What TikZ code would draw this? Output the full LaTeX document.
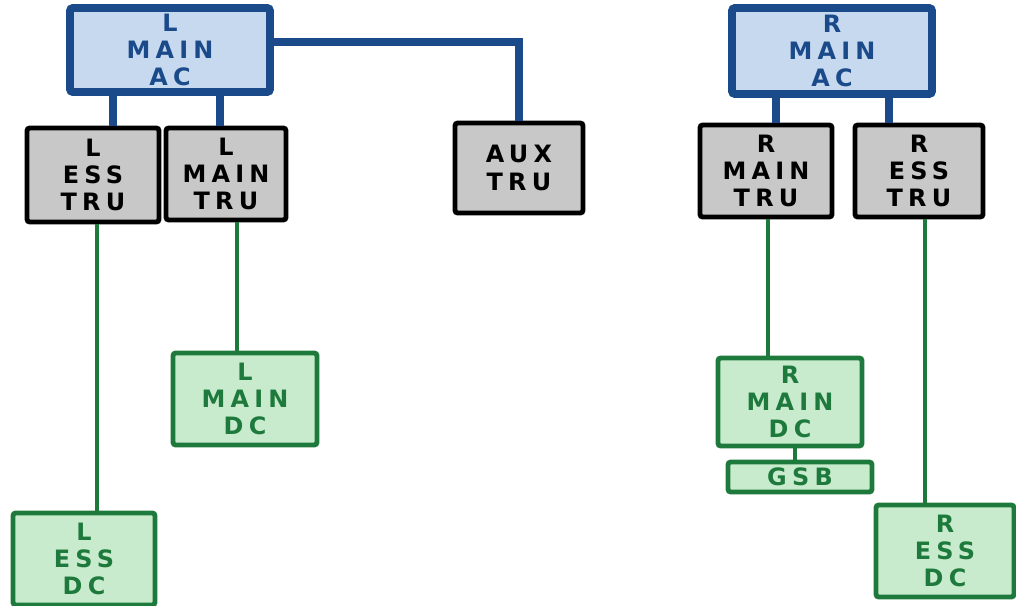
\documentclass[tikz,border=0pt]{standalone}
\usepackage{fontspec}
\setmainfont[LetterSpace=22]{DejaVu Sans}
\usepackage{tikz}
\usetikzlibrary{positioning,calc}
\definecolor{acblue}{HTML}{1A4A8A}
\definecolor{acfill}{HTML}{C6D9EE}
\definecolor{trugray}{HTML}{C8C8C8}
\definecolor{dcgreen}{HTML}{1E7A3C}
\definecolor{dcfill}{HTML}{C9EBCD}

\begin{document}
\begin{tikzpicture}[
x=0.025cm, y=-0.025cm,
every node/.style={font=\fontsize{17}{19.5}\selectfont\bfseries, align=center, inner sep=1pt},
acbox/.style={draw=acblue, line width=5.5pt, fill=acfill, text=acblue, rounded corners=2pt},
trubox/.style={draw=black, line width=3.5pt, fill=trugray, text=black, rounded corners=2pt},
dcbox/.style={draw=dcgreen, line width=3.5pt, fill=dcfill, text=dcgreen, rounded corners=2pt},
acline/.style={draw=acblue, line width=5.5pt},
dcline/.style={draw=dcgreen, line width=2.5pt}
]
\useasboundingbox (0,0) rectangle (1016,605);

% AC busses
\node[acbox, minimum width=5cm, minimum height=2.1cm] (lac) at (170,50) {L\\MAIN\\AC};
\node[acbox, minimum width=5cm, minimum height=2.15cm] (rac) at (832,51) {R\\MAIN\\AC};

% transformer rectifier units
\node[trubox, minimum width=3.3cm, minimum height=2.35cm] (lesstru) at (93,175) {L\\ESS\\TRU};
\node[trubox, minimum width=3cm, minimum height=2.3cm] (lmaintru) at (226,174) {L\\MAIN\\TRU};
\node[trubox, minimum width=3.2cm, minimum height=2.25cm] (auxtru) at (519,168) {AUX\\TRU};
\node[trubox, minimum width=3.3cm, minimum height=2.3cm] (rmaintru) at (766,171) {R\\MAIN\\TRU};
\node[trubox, minimum width=3.2cm, minimum height=2.3cm] (resstru) at (919,171) {R\\ESS\\TRU};

% DC busses
\node[dcbox, minimum width=3.6cm, minimum height=2.3cm] (lmaindc) at (245,399) {L\\MAIN\\DC};
\node[dcbox, minimum width=3.55cm, minimum height=2.3cm] (lessdc) at (84,559) {L\\ESS\\DC};
\node[dcbox, minimum width=3.6cm, minimum height=2.2cm] (rmaindc) at (790,402) {R\\MAIN\\DC};
\node[dcbox, minimum width=3.6cm, minimum height=0.75cm, inner sep=0pt] (gsb) at (800,477) {GSB};
\node[dcbox, minimum width=3.45cm, minimum height=2.3cm] (ressdc) at (945,551) {R\\ESS\\DC};

\draw[acline] ([xshift=5mm]lesstru.north) -- ([xshift=5mm]lesstru.north |- lac.south);
\draw[acline] ([xshift=-1.5mm]lmaintru.north) -- ([xshift=-1.5mm]lmaintru.north |- lac.south);
\draw[acline] ([yshift=2mm]lac.east) -| (auxtru.north);
\draw[acline] ([xshift=2.5mm]rmaintru.north) -- ([xshift=2.5mm]rmaintru.north |- rac.south);
\draw[acline] ([xshift=-7.5mm]resstru.north) -- ([xshift=-7.5mm]resstru.north |- rac.south);

\draw[dcline] ([xshift=1mm]lesstru.south) -- ([xshift=1mm]lesstru.south |- lessdc.north);
\draw[dcline] ([xshift=2.75mm]lmaintru.south) -- ([xshift=2.75mm]lmaintru.south |- lmaindc.north);
\draw[dcline] ([xshift=0.5mm]rmaintru.south) -- ([xshift=0.5mm]rmaintru.south |- rmaindc.north);
\draw[dcline] ([xshift=1.25mm]rmaindc.south) -- ([xshift=1.25mm]rmaindc.south |- gsb.north);
\draw[dcline] ([xshift=1.5mm]resstru.south) -- ([xshift=1.5mm]resstru.south |- ressdc.north);
\end{tikzpicture}
\end{document}
